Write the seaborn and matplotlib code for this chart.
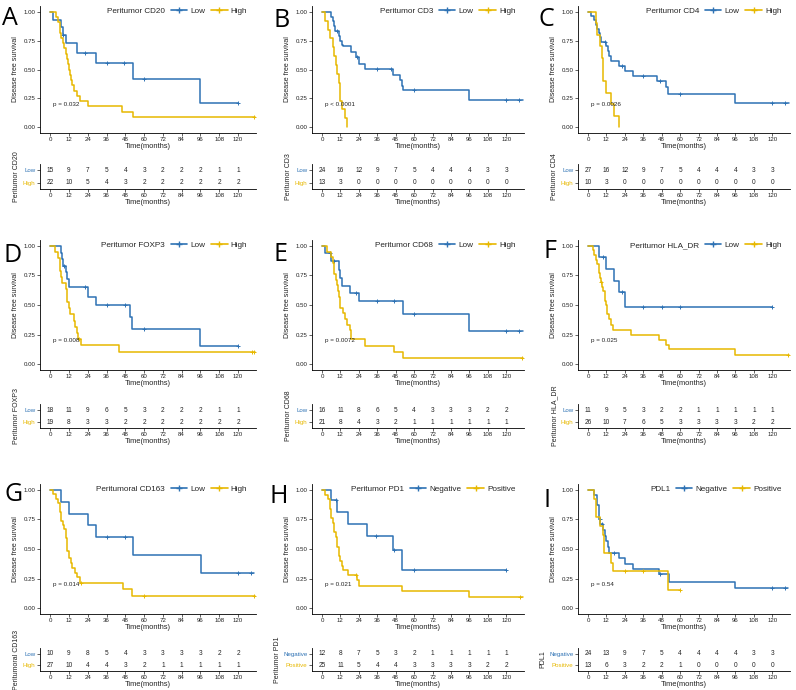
import numpy as np
import seaborn as sns
import matplotlib.pyplot as plt
from matplotlib.lines import Line2D

sns.set_style("ticks")
plt.rcParams['font.family'] = ['Liberation Sans', 'DejaVu Sans']

BLUE = "#2E72B4"
GOLD = "#E7B800"
W, H = 796, 690

times_at_risk = [0, 12, 24, 36, 48, 60, 72, 84, 96, 108, 120]

# ---- values: step times (months), survival after each step, censor times ----
# A  Peritumor CD20
a_low_time = [0, 2, 7, 8, 10, 17, 29, 53, 96, 120]
a_low_surv = [1, .933, .867, .80, .733, .645, .553, .415, .207, .207]
a_low_cens = [8.5, 22.5, 36, 47, 60, 120]
a_high_time = [0, 4, 5, 6, 6.5, 7, 8, 9, 10, 11, 11.5, 12, 12.5, 13, 14, 15, 17, 19, 24, 46, 53, 131]
a_high_surv = [1, .955, .909, .864, .818, .773, .727, .682, .636, .591, .545, .5, .455, .409, .364, .318, .273, .227, .182, .136, .091, .091]
a_high_cens = [130]
a_low_risk = [15, 9, 7, 5, 4, 3, 2, 2, 2, 1, 1]
a_high_risk = [22, 10, 5, 4, 3, 2, 2, 2, 2, 2, 2]

# B  Peritumor CD3
b_low_time = [0, 6, 7, 8, 8.5, 11, 12, 13, 14, 19, 22, 24, 28, 46, 51, 52, 53, 96, 131]
b_low_surv = [1, .958, .917, .875, .833, .79, .75, .71, .70, .65, .61, .55, .505, .45, .41, .36, .32, .24, .24]
b_low_cens = [10, 23, 36, 45, 60, 120, 128]
b_high_time = [0, 2, 4, 5, 7, 8, 9, 10, 11, 11.5, 12, 13, 15, 16]
b_high_surv = [1, .923, .846, .769, .692, .615, .538, .462, .385, .308, .231, .154, .077, 0]
b_high_cens = []
b_low_risk = [24, 16, 12, 9, 7, 5, 4, 4, 4, 3, 3]
b_high_risk = [13, 3, 0, 0, 0, 0, 0, 0, 0, 0, 0]

# C  Peritumor CD4
c_low_time = [0, 2, 4, 5, 6, 7, 8, 8.5, 12, 13, 14, 15, 20, 24, 29, 45, 51, 52, 96, 131]
c_low_surv = [1, .963, .926, .889, .852, .815, .778, .741, .70, .66, .615, .57, .53, .49, .445, .40, .35, .285, .21, .21]
c_low_cens = [11, 22, 36, 47, 60, 120, 128]
c_high_time = [0, 5, 6, 8, 9, 10, 12, 15, 17, 20]
c_high_surv = [1, .9, .8, .7, .6, .4, .3, .2, .1, 0]
c_high_cens = []
c_low_risk = [27, 16, 12, 9, 7, 5, 4, 4, 4, 3, 3]
c_high_risk = [10, 3, 0, 0, 0, 0, 0, 0, 0, 0, 0]

# D  Peritumor FOXP3
d_low_time = [0, 7, 7.5, 8, 10, 11, 12, 24, 29, 51, 52, 96, 120]
d_low_surv = [1, .944, .889, .833, .778, .722, .65, .57, .50, .40, .30, .15, .15]
d_low_cens = [9, 22, 36, 48, 60, 120]
d_high_time = [0, 3, 5, 6, 6.5, 7, 7.5, 10, 11, 12, 12.5, 15, 16, 17, 18, 20, 44, 131]
d_high_surv = [1, .947, .895, .842, .789, .737, .684, .632, .526, .474, .421, .368, .316, .263, .211, .158, .105, .105]
d_high_cens = [18.5, 129, 130]
d_low_risk = [18, 11, 9, 6, 5, 3, 2, 2, 2, 1, 1]
d_high_risk = [19, 8, 3, 3, 2, 2, 2, 2, 2, 2, 2]

# E  Peritumor CD68
e_low_time = [0, 2, 6, 11, 11.5, 13, 18, 24, 53, 96, 131]
e_low_surv = [1, .9375, .875, .80, .73, .665, .60, .53, .42, .28, .28]
e_low_cens = [5, 8, 22, 36, 47, 60, 120, 128]
e_high_time = [0, 3, 6, 7, 7.5, 8, 9, 10, 10.5, 11, 11.5, 12, 14, 15, 16, 18, 19, 28, 47, 53, 131]
e_high_surv = [1, .952, .905, .857, .81, .762, .714, .667, .619, .571, .524, .476, .429, .381, .333, .286, .215, .155, .103, .052, .052]
e_high_cens = [130]
e_low_risk = [16, 11, 8, 6, 5, 4, 3, 3, 3, 2, 2]
e_high_risk = [21, 8, 4, 3, 2, 1, 1, 1, 1, 1, 1]

# F  Peritumor HLA_DR
f_low_time = [0, 7, 12, 17, 20, 24, 120]
f_low_surv = [1, .909, .808, .707, .606, .485, .485]
f_low_cens = [10, 22, 36, 48, 60, 120]
f_high_time = [0, 3, 4, 5, 6, 7, 8, 8.5, 9, 10, 11, 12, 12.5, 14, 15, 16, 28, 46, 51, 53, 96, 131]
f_high_surv = [1, .962, .923, .885, .846, .769, .731, .692, .654, .615, .538, .50, .42, .38, .33, .29, .245, .20, .165, .125, .08, .08]
f_high_cens = [8.7, 130]
f_low_risk = [11, 9, 5, 3, 2, 2, 1, 1, 1, 1, 1]
f_high_risk = [26, 10, 7, 6, 5, 3, 3, 3, 3, 2, 2]

# G  Peritumoral CD163
g_low_time = [0, 7, 12, 24, 29, 53, 96.5, 130]
g_low_surv = [1, .9, .8, .7, .6, .45, .30, .30]
g_low_cens = [36, 48, 120, 128]
g_high_time = [0, 2, 4, 5, 6, 7, 8, 9, 10, 10.5, 11, 12, 13, 14, 16, 17, 19, 46.5, 52.5, 131]
g_high_surv = [1, .963, .926, .889, .815, .741, .704, .667, .593, .556, .481, .42, .38, .34, .30, .26, .215, .16, .105, .105]
g_high_cens = [20, 60, 130]
g_low_risk = [10, 9, 8, 5, 4, 3, 3, 3, 3, 2, 2]
g_high_risk = [27, 10, 4, 4, 3, 2, 1, 1, 1, 1, 1]

# H  Peritumor PD1
h_low_time = [0, 6, 10, 17, 29, 46, 52, 120]
h_low_surv = [1, .917, .815, .713, .611, .489, .326, .326]
h_low_cens = [9, 35, 47, 60, 120]
h_high_time = [0, 2, 4, 5, 6, 7, 8, 9, 10, 11, 12, 13, 14, 17, 23, 24, 52, 96, 131]
h_high_surv = [1, .96, .92, .84, .76, .72, .64, .60, .52, .44, .40, .36, .32, .28, .24, .19, .145, .095, .095]
h_high_cens = [22, 129]
h_low_risk = [12, 8, 7, 5, 3, 2, 1, 1, 1, 1, 1]
h_high_risk = [25, 11, 5, 4, 4, 3, 3, 3, 3, 2, 2]

# I  PDL1
i_low_time = [0, 4, 6, 7, 8, 10, 11, 12, 13, 14, 20, 24, 29, 46, 53, 96, 130]
i_low_surv = [1, .958, .875, .75, .71, .66, .61, .565, .52, .47, .42, .375, .33, .285, .225, .17, .17]
i_low_cens = [7.5, 9, 17, 47, 120, 128]
i_high_time = [0, 4, 5, 8, 10, 10.5, 15, 16, 52, 60]
i_high_surv = [1, .923, .769, .692, .615, .462, .385, .31, .155, .155]
i_high_cens = [24, 36, 60]
i_low_risk = [24, 13, 9, 7, 5, 4, 4, 4, 4, 3, 3]
i_high_risk = [13, 6, 3, 2, 2, 1, 0, 0, 0, 0, 0]

panels = [
    ("A", "Peritumor CD20", ("Low", "High"), "p = 0.032",
     (a_low_time, a_low_surv, a_low_cens), (a_high_time, a_high_surv, a_high_cens), (a_low_risk, a_high_risk)),
    ("B", "Peritumor CD3", ("Low", "High"), "p < 0.0001",
     (b_low_time, b_low_surv, b_low_cens), (b_high_time, b_high_surv, b_high_cens), (b_low_risk, b_high_risk)),
    ("C", "Peritumor CD4", ("Low", "High"), "p = 0.0026",
     (c_low_time, c_low_surv, c_low_cens), (c_high_time, c_high_surv, c_high_cens), (c_low_risk, c_high_risk)),
    ("D", "Peritumor FOXP3", ("Low", "High"), "p = 0.008",
     (d_low_time, d_low_surv, d_low_cens), (d_high_time, d_high_surv, d_high_cens), (d_low_risk, d_high_risk)),
    ("E", "Peritumor CD68", ("Low", "High"), "p = 0.0072",
     (e_low_time, e_low_surv, e_low_cens), (e_high_time, e_high_surv, e_high_cens), (e_low_risk, e_high_risk)),
    ("F", "Peritumor HLA_DR", ("Low", "High"), "p = 0.025",
     (f_low_time, f_low_surv, f_low_cens), (f_high_time, f_high_surv, f_high_cens), (f_low_risk, f_high_risk)),
    ("G", "Peritumoral CD163", ("Low", "High"), "p = 0.014",
     (g_low_time, g_low_surv, g_low_cens), (g_high_time, g_high_surv, g_high_cens), (g_low_risk, g_high_risk)),
    ("H", "Peritumor PD1", ("Negative", "Positive"), "p = 0.021",
     (h_low_time, h_low_surv, h_low_cens), (h_high_time, h_high_surv, h_high_cens), (h_low_risk, h_high_risk)),
    ("I", "PDL1", ("Negative", "Positive"), "p = 0.54",
     (i_low_time, i_low_surv, i_low_cens), (i_high_time, i_high_surv, i_high_cens), (i_low_risk, i_high_risk)),
]

# layout in pixels
col_left = [40, 312, 578]
col_right = [256, 524, 790]
main_rows = [(6, 133), (240, 370), (484, 614)]
table_rows = [(164, 189), (404, 428), (648, 671)]
letter_pos = [(2, 6), (273, 8), (539, 7), (4, 243), (273, 242), (543, 239), (4, 482), (270, 484), (543, 488)]

TXT = "#222222"


def px_axes(fig, l, r, t, b):
    return fig.add_axes([l / W, 1 - b / H, (r - l) / W, (b - t) / H])


def style_axis(ax):
    sns.despine(ax=ax)
    for s in ("left", "bottom"):
        ax.spines[s].set_linewidth(0.6)
        ax.spines[s].set_color("black")
    ax.tick_params(labelsize=4.4, length=2, width=0.5, pad=1.2, colors=TXT)
    ax.set_xlim(-6.5, 131.5)
    ax.set_xticks(times_at_risk)
    ax.set_xlabel("Time(months)", fontsize=5.4, labelpad=0.5, color=TXT)


fig = plt.figure(figsize=(W / 100, H / 100), dpi=100)

for k, (letter, name, groups, pval, low, high, risk) in enumerate(panels):
    row, col = divmod(k, 3)
    l, r = col_left[col], col_right[col]
    t, b = main_rows[row]
    ax = px_axes(fig, l, r, t, b)

    for (tm, sv, cs), color in zip((low, high), (BLUE, GOLD)):
        sns.lineplot(x=tm, y=sv, ax=ax, color=color, drawstyle="steps-post",
                     estimator=None, sort=False, linewidth=1.1)
        if len(cs):
            idx = np.searchsorted(tm, cs, side="right") - 1
            ax.plot(cs, np.array(sv)[idx], "+", color=color, markersize=3.5, mew=0.7)

    ax.set_ylim(-0.05, 1.05)
    ax.set_yticks([0, 0.25, 0.5, 0.75, 1.0])
    ax.set_yticklabels(["0.00", "0.25", "0.50", "0.75", "1.00"])
    style_axis(ax)
    ax.set_ylabel("Disease free survival", fontsize=5.0, labelpad=3, color=TXT)
    ax.text(2, 0.2, pval, fontsize=4.5, color=TXT, ha="left", va="center")

    handles = [Line2D([], [], color="none"),
               Line2D([], [], color=BLUE, marker="+", markersize=4, lw=1.2),
               Line2D([], [], color=GOLD, marker="+", markersize=4, lw=1.2)]
    ax.legend(handles, [name, groups[0], groups[1]], loc="upper right",
              bbox_to_anchor=(0.96, 0.99), ncol=3, frameon=False, fontsize=5.9,
              handlelength=2.0, handletextpad=0.4, columnspacing=0.7,
              borderaxespad=0, borderpad=0)

    # risk table
    t2, b2 = table_rows[row]
    ax2 = px_axes(fig, l, r, t2, b2)
    for vals, ypos in zip(risk, (1, 0)):
        for tt, n in zip(times_at_risk, vals):
            ax2.text(tt, ypos, str(n), fontsize=4.7, color=TXT, ha="center", va="center")
    ax2.set_ylim(-0.5, 1.5)
    ax2.set_yticks([0, 1])
    ax2.set_yticklabels([groups[1], groups[0]])
    style_axis(ax2)
    for lab, color in zip(ax2.get_yticklabels(), (GOLD, BLUE)):
        lab.set_color(color)
    ax2.set_ylabel(name, fontsize=5.0, labelpad=2, color=TXT)

    lx, ly = letter_pos[k]
    fig.text(lx / W, 1 - ly / H, letter, fontsize=18, va="top", ha="left",
             family=["Open Sans", "DejaVu Sans"], color="black")

fig.savefig("out.png", dpi=100)
